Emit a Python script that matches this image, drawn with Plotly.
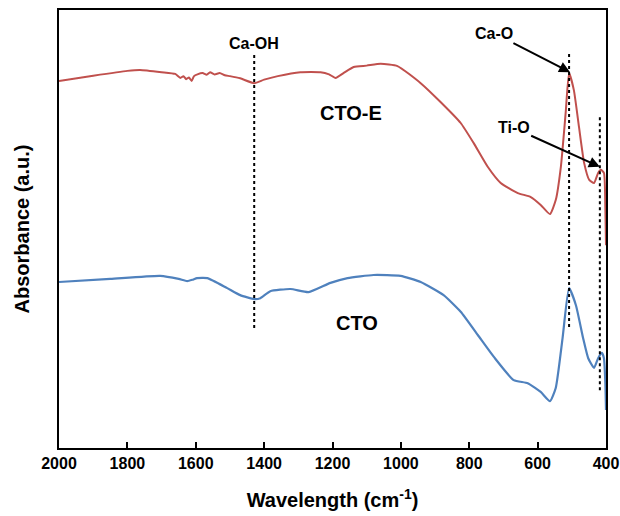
import plotly.graph_objects as go

# ---- data (wavenumber cm^-1, absorbance a.u.) ----
cto_e_wn = [2000, 1900, 1800, 1763, 1700, 1660, 1645, 1636, 1628, 1620, 1612, 1605, 1595, 1580, 1568,
            1558, 1545, 1530, 1515, 1500, 1470, 1429, 1400, 1360, 1294, 1235, 1210, 1191, 1168, 1138,
            1100, 1059, 1010, 942, 884, 825, 787, 746, 708, 658, 620, 591, 564, 547, 532, 518, 508,
            494, 479, 464, 449, 435, 423, 415, 406, 402, 400]
cto_e_ab = [83.8, 85.0, 86.1, 86.3, 85.8, 85.4, 84.5, 84.9, 84.2, 84.6, 83.8, 84.9, 85.3, 85.6, 85.2,
            85.8, 85.3, 85.6, 85.1, 84.9, 84.4, 83.3, 84.1, 84.9, 85.8, 85.8, 85.3, 84.5, 85.6, 87.0,
            87.3, 87.7, 87.2, 83.3, 79.0, 74.2, 69.6, 64.2, 60.5, 58.2, 57.3, 55.5, 53.4, 56.6, 64.2,
            76.5, 85.6, 81.7, 73.3, 65.1, 61.2, 60.5, 62.8, 63.5, 62.8, 55.0, 46.3]

cto_wn = [2000, 1850, 1704, 1650, 1625, 1610, 1596, 1566, 1508, 1470, 1429, 1411, 1382, 1323,
          1270, 1206, 1156, 1080, 1001, 942, 875, 825, 775, 728, 670, 629, 591, 564, 547,
          527, 508, 488, 467, 452, 435, 423, 412, 406, 402, 400]
cto_ab = [37.9, 38.6, 39.3, 38.6, 38.1, 38.4, 38.8, 38.8, 36.5, 34.9, 34.0, 34.2, 35.8, 36.3,
          35.6, 37.7, 38.8, 39.5, 39.3, 37.9, 34.9, 31.1, 25.8, 20.8, 15.5, 14.8, 12.8, 10.7, 13.7,
          25.1, 36.5, 32.6, 25.1, 20.5, 18.3, 20.5, 21.7, 20.5, 15.0, 8.7]

# reference band positions (dotted lines)
band_names = ["Ca-OH", "Ca-O", "Ti-O"]
band_wn = [1429, 508, 418]
band_top = [89.7, 90.6, 76.0]
band_bottom = [27.4, 27.6, 13.2]

x_ticks = [2000, 1800, 1600, 1400, 1200, 1000, 800, 600, 400]

FONT = "Arial, Liberation Sans, sans-serif"

fig = go.Figure()
fig.add_trace(go.Scatter(x=cto_e_wn, y=cto_e_ab, mode="lines", name="CTO-E",
                         line=dict(color="#C0504D", width=2, shape="spline", smoothing=0.5)))
fig.add_trace(go.Scatter(x=cto_wn, y=cto_ab, mode="lines", name="CTO",
                         line=dict(color="#4F81BD", width=2.2, shape="spline", smoothing=0.5)))

for wn, t, b in zip(band_wn, band_top, band_bottom):
    fig.add_shape(type="line", x0=wn, x1=wn, y0=b, y1=t, xref="x", yref="y",
                  line=dict(color="black", width=2, dash="dot"))

LBL = dict(family=FONT, size=16, color="black")
# labels
fig.add_annotation(x=1429, y=92.4, text="<b>Ca-OH</b>", showarrow=False, font=LBL)
fig.add_annotation(x=505, y=85.8, ax=728, ay=94.7, xref="x", yref="y", axref="x", ayref="y",
                   text="<b>Ca-O</b>", font=LBL, showarrow=True, arrowhead=2, arrowsize=1.1,
                   arrowwidth=2, arrowcolor="black")
fig.add_annotation(x=418, y=64.2, ax=670, ay=73.1, xref="x", yref="y", axref="x", ayref="y",
                   text="<b>Ti-O</b>", font=LBL, showarrow=True, arrowhead=2, arrowsize=1.1,
                   arrowwidth=2, arrowcolor="black")
fig.add_annotation(x=1147, y=76.5, text="<b>CTO-E</b>", showarrow=False,
                   font=dict(family=FONT, size=20, color="black"))
fig.add_annotation(x=1127, y=28.5, text="<b>CTO</b>", showarrow=False,
                   font=dict(family=FONT, size=20, color="black"))

fig.update_layout(
    width=620, height=516,
    margin=dict(l=59, r=14, t=10, b=68, autoexpand=False),
    paper_bgcolor="white", plot_bgcolor="white",
    showlegend=False,
    font=dict(family=FONT, color="black"),
)
fig.update_xaxes(range=[2000, 400], tickvals=x_ticks, ticktext=[f"<b>{v}</b>" for v in x_ticks],
                 ticks="inside", ticklen=6, tickwidth=1.5,
                 tickcolor="black", showline=True, linecolor="black", linewidth=2, mirror=True,
                 showgrid=False, zeroline=False,
                 tickfont=dict(family=FONT, size=16, color="black"),
                 title=dict(text="<b>Wavelength (cm<sup>-1</sup>)</b>", standoff=22,
                            font=dict(family=FONT, size=20, color="black")))
fig.update_yaxes(range=[0, 100], showticklabels=False, ticks="", showline=True, linecolor="black",
                 linewidth=2, mirror=True, showgrid=False, zeroline=False,
                 title=dict(text="<b>Absorbance (a.u.)</b>", standoff=22,
                            font=dict(family=FONT, size=20, color="black")))

fig.write_html("out.html")
